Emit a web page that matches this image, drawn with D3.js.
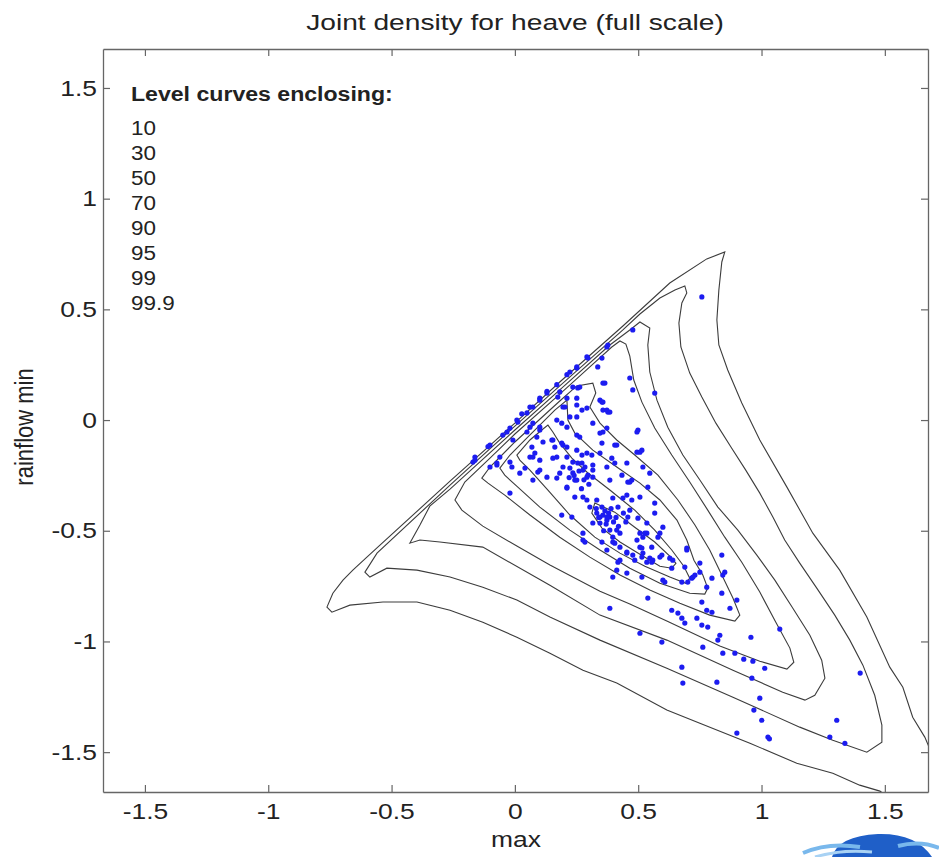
<!DOCTYPE html>
<html>
<head>
<meta charset="utf-8">
<script src="https://cdn.jsdelivr.net/npm/d3@7"></script>
<style>
  body { margin: 0; background: #fff; }
  svg text { font-family: "Liberation Sans", Arial, sans-serif; fill: #222; }
</style>
</head>
<body>
<svg id="chart" width="939" height="857"></svg>
<script>
var xTicks = [-1.5, -1, -0.5, 0, 0.5, 1, 1.5];
var xTickLabels = ["-1.5", "-1", "-0.5", "0", "0.5", "1", "1.5"];
var yTicks = [-1.5, -1, -0.5, 0, 0.5, 1, 1.5];
var yTickLabels = ["-1.5", "-1", "-0.5", "0", "0.5", "1", "1.5"];
var levelLabels = ["10", "30", "50", "70", "90", "95", "99", "99.9"];

// level curves, [max, min]
var level10 = [[0.324,-0.375],[0.405,-0.416],[0.486,-0.484],[0.567,-0.551],[0.628,-0.615],[0.653,-0.647],[0.636,-0.669],
  [0.588,-0.660],[0.507,-0.606],[0.426,-0.551],[0.353,-0.488],[0.312,-0.420]];
var level30 = [[0.008,-0.158],[0.061,-0.090],[0.109,-0.045],[0.134,-0.023],[0.154,-0.054],[0.182,-0.104],[0.231,-0.172],
  [0.296,-0.239],[0.385,-0.316],[0.486,-0.407],[0.567,-0.497],[0.636,-0.587],[0.685,-0.660],[0.709,-0.714],[0.693,-0.737],
  [0.628,-0.709],[0.527,-0.660],[0.426,-0.601],[0.324,-0.529],[0.223,-0.429],[0.134,-0.316],[0.061,-0.226],[0.020,-0.181]];
var level50 = [[-0.061,-0.217],[-0.020,-0.158],[0.041,-0.090],[0.101,-0.023],[0.162,0.045],[0.211,0.090],[0.215,0],
  [0.243,-0.059],[0.316,-0.136],[0.413,-0.212],[0.507,-0.285],[0.588,-0.361],[0.657,-0.452],[0.697,-0.542],[0.726,-0.633],
  [0.762,-0.700],[0.782,-0.759],[0.770,-0.786],[0.709,-0.782],[0.588,-0.737],[0.466,-0.669],[0.345,-0.587],[0.223,-0.497],
  [0.101,-0.393],[0.012,-0.303],[-0.041,-0.249]];
var level70 = [[-0.134,-0.262],[-0.101,-0.212],[0,-0.099],[0.182,0.086],[0.251,0.154],[0.316,0.167],[0.328,0.122],
  [0.304,0.059],[0.345,-0.014],[0.413,-0.090],[0.486,-0.158],[0.580,-0.249],[0.661,-0.361],[0.730,-0.474],[0.790,-0.587],
  [0.839,-0.700],[0.884,-0.804],[0.912,-0.881],[0.892,-0.908],[0.790,-0.881],[0.669,-0.827],[0.547,-0.768],[0.426,-0.700],
  [0.304,-0.619],[0.182,-0.529],[0.061,-0.429],[-0.041,-0.339],[-0.109,-0.285]];
var level90 = [[-0.243,-0.361],[-0.203,-0.280],[-0.101,-0.172],[0,-0.063],[0.182,0.117],[0.304,0.240],[0.393,0.330],
  [0.426,0.357],[0.450,0.343],[0.466,0.289],[0.482,0.181],[0.515,0.081],[0.567,-0.036],[0.636,-0.158],[0.709,-0.280],
  [0.782,-0.407],[0.851,-0.529],[0.920,-0.642],[0.993,-0.777],[1.058,-0.913],[1.115,-1.030],[1.131,-1.094],[1.103,-1.125],
  [0.993,-1.089],[0.831,-1.021],[0.616,-0.908],[0.466,-0.831],[0.345,-0.773],[0.142,-0.655],[0.008,-0.569],[-0.130,-0.479],
  [-0.215,-0.407]];
var level95 = [[-0.426,-0.556],[-0.385,-0.474],[-0.345,-0.389],[-0.263,-0.312],[0,-0.045],[0.182,0.136],[0.385,0.339],
  [0.466,0.407],[0.507,0.443],[0.547,0.416],[0.539,0.339],[0.547,0.217],[0.576,0.090],[0.620,-0.032],[0.681,-0.158],
  [0.750,-0.271],[0.823,-0.393],[0.904,-0.497],[0.981,-0.610],[1.054,-0.723],[1.127,-0.850],[1.196,-0.972],[1.244,-1.085],
  [1.257,-1.166],[1.216,-1.243],[1.176,-1.265],[1.086,-1.229],[0.884,-1.130],[0.616,-0.994],[0.345,-0.881],[0.142,-0.746],
  [-0.130,-0.574],[-0.304,-0.551],[-0.385,-0.542]];
var level99 = [[-0.608,-0.687],[-0.559,-0.601],[-0.263,-0.294],[0,-0.027],[0.182,0.154],[0.438,0.407],[0.507,0.479],
  [0.588,0.551],[0.649,0.587],[0.689,0.606],[0.697,0.574],[0.677,0.529],[0.665,0.438],[0.673,0.330],[0.709,0.212],
  [0.758,0.104],[0.815,-0.014],[0.876,-0.122],[0.936,-0.226],[0.993,-0.330],[1.046,-0.438],[1.094,-0.542],[1.155,-0.646],
  [1.224,-0.759],[1.297,-0.881],[1.358,-0.994],[1.411,-1.107],[1.459,-1.243],[1.488,-1.378],[1.488,-1.455],[1.427,-1.500],
  [1.289,-1.446],[1.155,-1.387],[0.884,-1.252],[0.616,-1.121],[0.345,-0.994],[0.142,-0.890],[0.008,-0.813],[-0.130,-0.755],
  [-0.263,-0.709],[-0.397,-0.678],[-0.519,-0.669],[-0.588,-0.709]];
var level999 = [[-0.762,-0.845],[-0.738,-0.782],[-0.697,-0.723],[-0.657,-0.678],[-0.600,-0.619],[-0.547,-0.565],
  [-0.263,-0.276],[0,-0.014],[0.182,0.172],[0.438,0.425],[0.628,0.619],[0.778,0.728],[0.851,0.759],[0.839,0.714],
  [0.827,0.587],[0.819,0.452],[0.827,0.339],[0.863,0.226],[0.920,0.077],[0.993,-0.090],[1.103,-0.303],[1.208,-0.511],
  [1.317,-0.678],[1.427,-0.890],[1.520,-1.116],[1.573,-1.207],[1.613,-1.342],[1.662,-1.432],[1.702,-1.536],[1.723,-1.717],
  [1.561,-1.740],[1.480,-1.676],[1.398,-1.649],[1.289,-1.595],[1.143,-1.550],[0.953,-1.460],[0.750,-1.369],[0.616,-1.310],
  [0.413,-1.188],[0.276,-1.130],[0.142,-1.053],[0.008,-0.981],[-0.130,-0.913],[-0.263,-0.859],[-0.397,-0.822],
  [-0.535,-0.822],[-0.669,-0.836],[-0.742,-0.868]];

// observed rainflow cycles, [max, min]
var cycles = [
  [0.385,-0.850],[0.507,-0.963],[0.596,-1.003],[0.677,-1.116],[0.681,-1.188],[0.819,-1.184],[0.961,-1.166],[1.013,-1.121],
  [0.965,-1.089],[0.928,-1.080],[0.892,-1.053],[0.843,-1.053],[0.762,-1.026],[0.823,-0.994],[0.831,-0.972],[0.957,-0.981],
  [1.074,-0.944],[0.782,-0.935],[0.758,-0.926],[0.689,-0.917],[0.677,-0.895],[0.661,-0.872],[0.636,-0.859],[0.738,-0.895],
  [0.778,-0.859],[0.799,-0.868],[0.872,-0.850],[0.758,-0.822],[0.839,-0.782],[0.900,-0.813],[0.539,-0.804],[0.843,-0.700],
  [0.799,-0.714],[0.750,-0.687],[0.730,-0.700],[0.717,-0.714],[0.677,-0.732],[0.608,-0.732],[0.515,-0.709],[0.454,-0.691],
  [0.636,-0.669],[0.628,-0.624],[0.535,-0.642],[0.478,-0.610],[0.418,-0.642],[0.405,-0.556],[0.519,-0.601],[0.547,-0.624],
  [0.596,-0.610],[0.697,-0.587],[0.839,-0.610],[0.851,-0.687],[0.750,-0.646],[0.507,-0.574],
  [1.400,-1.143],[0.993,-1.256],[0.969,-1.310],[1.001,-1.356],[0.900,-1.414],[1.026,-1.432],[1.032,-1.440],[1.305,-1.356],
  [1.277,-1.432],[1.338,-1.460],
  [0.203,0.059],[0.190,-0.014],[0.272,0.045],[0.316,-0.014],[0.377,0.036],[0.357,0.081],[0.499,-0.045],[0.515,-0.136],
  [0.353,-0.104],[0.405,-0.113],[0.195,-0.113],[0.251,-0.136],[0.272,-0.158],[0.211,-0.167],[0.312,-0.158],[0.255,-0.194],
  [0.284,-0.212],[0.223,-0.217],[0.296,-0.249],[0.316,-0.258],[0.243,-0.271],[0.373,-0.212],[0.385,-0.271],[0.458,-0.280],
  [0.474,-0.271],[0.519,-0.212],[0.539,-0.303],[0.211,-0.307],[0.243,-0.348],[0.292,-0.361],[0.332,-0.361],[0.353,-0.393],
  [0.397,-0.352],[0.418,-0.393],[0.357,-0.429],[0.385,-0.438],[0.373,-0.452],[0.466,-0.407],[0.458,-0.438],[0.316,-0.465],
  [0.276,-0.542],[0.353,-0.551],[0.397,-0.529],[0.426,-0.574],[0.454,-0.596],[0.507,-0.511],[0.519,-0.529],[0.535,-0.511],
  [0.555,-0.574],[0.515,-0.578],[0.486,-0.633],[0.515,-0.619],[0.555,-0.642],[0.588,-0.619],[0.567,-0.420],[0.580,-0.529],
  [0.640,-0.633],[0.600,-0.723],[0.397,-0.709],[0.697,-0.578],[0.689,-0.664],[0.722,-0.709],[0.778,-0.755],[0.701,-0.732],
  [0.231,-0.438],[0.190,-0.429],[0.495,-0.145],[0.547,-0.240],[0.454,-0.194],[0.373,-0.036],[0.345,-0.059],[0.393,-0.172],
  [0.405,-0.194],[0.434,-0.249],[0.438,-0.352],[0.474,-0.361],[0.499,-0.443],[0.567,-0.375],[0.600,-0.484],[0.495,-0.542],
  [0.377,0.339],[0.353,0.280],[0.336,0.240],[0.292,0.285],[0.251,0.235],[0.223,0.217],[0.365,0.167],[0.345,0.090],
  [0.357,0.045],[0.235,0.149],[0.255,0.145],[0.174,0.104],[0.130,0.130],[0.101,0.099],[0.061,0.059],[0.028,0.028],
  [0.008,0],[-0.020,-0.036],[-0.032,-0.054],[-0.101,-0.113],[-0.162,-0.181],[0.101,-0.032],[0.073,-0.014],[0.049,-0.054],
  [0.170,0],[0.211,-0.032],[0.251,0.014],[0.195,0.059],[0.089,-0.077],[0.114,-0.099],[0.069,-0.122],[0.081,-0.149],
  [0.150,-0.090],[0.162,-0.122],[0.190,-0.104],[0.061,-0.167],[0.101,-0.181],[0.170,-0.167],[0.041,-0.217],[0.093,-0.235],
  [-0.020,-0.190],[-0.073,-0.203],[0.195,-0.212],[0.235,-0.190],[0.276,-0.226],[0.316,-0.203],[0.345,-0.149],[0.357,-0.054],
  [0.251,-0.068],[0.170,-0.262],[0.130,-0.258],[0.292,-0.258],
  [0.373,0.330],[0.296,0.280],[0.251,0.240],[0.211,0.205],[0.170,0.160],[0.130,0.122],[0.101,0.090],[0.073,0.059],
  [0.049,0.032],[0.012,-0.009],[-0.049,-0.068],[-0.109,-0.120],[-0.162,-0.167],[-0.170,-0.190],[0.263,0.149],[0.357,0.167],
  [0.353,0.081],[0.373,0.045],[0.292,0.054],[0.251,0.068],[0.211,0.099],[0.182,0.127],[0.263,-0.077],[0.292,-0.149],
  [0.211,-0.122],[0.154,-0.090],[0.101,-0.045],[0.061,-0.032],[0.154,-0.172],[0.101,-0.226],[0.182,-0.240],[0.211,-0.303],
  [-0.008,-0.090],[-0.061,-0.167],[-0.073,-0.194],[-0.012,-0.212],[-0.101,-0.212],[0.073,-0.167],[0.020,-0.240],[0.073,-0.271],
  [-0.020,-0.330],[0.251,-0.271],[0.276,-0.348],[0.304,-0.393],[0.332,-0.420],[0.345,-0.465],[0.373,-0.438],[0.385,-0.497],
  [0.276,-0.511],[0.397,-0.551],[0.426,-0.511],[0.426,-0.633],[0.373,-0.587],[0.413,-0.678],[0.284,-0.551],
  [0.758,0.556],[0.478,0.407],[0.466,0.190],[0.478,0.136],[0.567,0.122],[0.385,0.036],[0.495,-0.054],[0.413,-0.113],
  [0.507,-0.145],[0.466,-0.280],[0.223,0.014],[0.251,0.099],[0.272,-0.194],[0.316,-0.226],[0.235,-0.239],[0.454,-0.339],
  [0.507,-0.348],[0.345,-0.438],[0.413,-0.497],[0.535,-0.465],[0.527,-0.511],[0.588,-0.511],[0.454,-0.601],[0.559,-0.633],
  [0.365,-0.410],[0.380,-0.420],[0.390,-0.400],[0.370,-0.470],[0.400,-0.460],[0.410,-0.440],[0.340,-0.440],[0.360,-0.500],
  [0.330,-0.400],[0.420,-0.480],[0.440,-0.420],[0.450,-0.460],[0.260,-0.230],[0.280,-0.270],[0.300,-0.290],[0.240,-0.250],
  [0.270,-0.310],[0.220,-0.260]
];

var levelCurves = [level10, level30, level50, level70, level90, level95, level99, level999];

var margin = { top: 49, right: 11, bottom: 65, left: 103 },
  width = 939 - margin.left - margin.right,
  height = 857 - margin.top - margin.bottom;

var svg = d3.select("#chart");
svg.append("rect").attr("width", 939).attr("height", 857).attr("fill", "#fff");

var plot = svg.append("g")
  .attr("transform", "translate(" + margin.left + "," + margin.top + ")");

var x = d3.scaleLinear().domain([-1.67, 1.675]).range([0, width]);
var y = d3.scaleLinear().domain([-1.68, 1.676]).range([height, 0]);

plot.append("clipPath").attr("id", "box")
  .append("rect").attr("width", width).attr("height", height);

// level curves
var line = d3.line()
  .x(function (d) { return x(d[0]); })
  .y(function (d) { return y(d[1]); })
  .curve(d3.curveLinearClosed);

plot.append("g")
  .attr("clip-path", "url(#box)")
  .selectAll(".level")
  .data(levelCurves)
  .enter()
  .append("path")
  .attr("class", "level")
  .attr("d", line)
  .attr("fill", "none")
  .attr("stroke", "#3c3c3c")
  .attr("stroke-width", 1.1);

// cycles
plot.append("g")
  .attr("clip-path", "url(#box)")
  .selectAll("circle")
  .data(cycles)
  .enter()
  .append("circle")
  .attr("cx", function (d) { return x(d[0]); })
  .attr("cy", function (d) { return y(d[1]); })
  .attr("r", 2.6)
  .attr("fill", "#1c1cf0");

// axes, ticks pointing inward on all four sides
function styleAxis(g) {
  g.attr("font-size", null).attr("font-family", null);
  g.select(".domain").attr("stroke", "#666").attr("stroke-width", 1.3);
  g.selectAll(".tick line").attr("stroke", "#666").attr("stroke-width", 1.2);
}

var xAxis = d3.axisBottom(x).tickValues(xTicks)
  .tickFormat(function (d) { return xTickLabels[xTicks.indexOf(d)]; })
  .tickSize(-7).tickSizeOuter(0).tickPadding(11);
var xTop = d3.axisTop(x).tickValues(xTicks).tickFormat("").tickSize(-7).tickSizeOuter(0);
var yAxis = d3.axisLeft(y).tickValues(yTicks)
  .tickFormat(function (d) { return yTickLabels[yTicks.indexOf(d)]; })
  .tickSize(-7).tickSizeOuter(0).tickPadding(5);
var yRight = d3.axisRight(y).tickValues(yTicks).tickFormat("").tickSize(-7).tickSizeOuter(0);

plot.append("g").attr("transform", "translate(0," + height + ")").call(xAxis).call(styleAxis);
plot.append("g").call(xTop).call(styleAxis);
plot.append("g").call(yAxis).call(styleAxis);
plot.append("g").attr("transform", "translate(" + width + ",0)").call(yRight).call(styleAxis);

plot.selectAll(".tick text")
  .attr("font-size", 22)
  .attr("fill", "#222")
  .attr("transform", "scale(1.2,1)");

// legend
plot.append("text")
  .attr("transform", "translate(28,52) scale(1.1,1)")
  .attr("font-size", 21)
  .attr("font-weight", "bold")
  .text("Level curves enclosing:");

plot.selectAll(".levelLabel")
  .data(levelLabels)
  .enter()
  .append("text")
  .attr("class", "levelLabel")
  .attr("transform", function (d, i) { return "translate(28," + (86 + i * 25) + ") scale(1.07,1)"; })
  .attr("font-size", 21)
  .text(function (d) { return d; });

// titles
svg.append("text")
  .attr("transform", "translate(515,30) scale(1.28,1)")
  .attr("text-anchor", "middle")
  .attr("font-size", 22)
  .text("Joint density for heave (full scale)");

svg.append("text")
  .attr("transform", "translate(516,847) scale(1.2,1)")
  .attr("text-anchor", "middle")
  .attr("font-size", 22)
  .text("max");

svg.append("text")
  .attr("transform", "translate(33,427) rotate(-90) scale(1,1.2)")
  .attr("text-anchor", "middle")
  .attr("font-size", 22)
  .text("rainflow min");

// corner logo
var logo = svg.append("g");
logo.append("path")
  .attr("d", "M832,857 Q838,836 878,834 Q916,833 932,857 Z")
  .attr("fill", "#1f5fc8");
logo.append("path")
  .attr("d", "M803,853 Q828,842 860,847")
  .attr("fill", "none").attr("stroke", "#79b8ec").attr("stroke-width", 4);
logo.append("path")
  .attr("d", "M815,857 Q842,849 872,852")
  .attr("fill", "none").attr("stroke", "#a8d2f4").attr("stroke-width", 3);
logo.append("path")
  .attr("d", "M898,846 Q920,840 939,848")
  .attr("fill", "none").attr("stroke", "#79b8ec").attr("stroke-width", 4);
</script>
</body>
</html>
